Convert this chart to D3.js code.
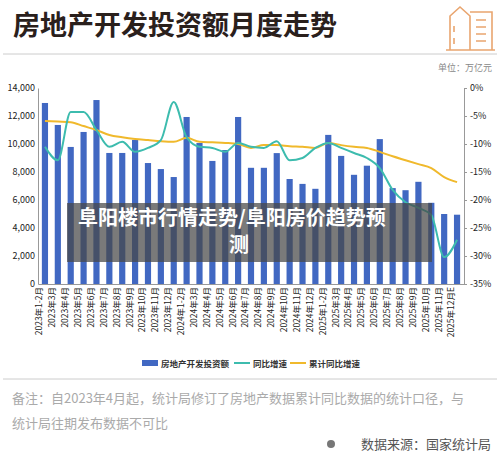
<!DOCTYPE html>
<html><head><meta charset="utf-8">
<script src="https://cdn.jsdelivr.net/npm/d3@7"></script>
<style>body{margin:0;background:#fff}text{font-family:"Noto Sans CJK SC","Noto Sans",sans-serif}</style>
</head><body><div id="chart"></div>
<script>
const months = ["2023年1-2月","2023年3月","2023年4月","2023年5月","2023年6月","2023年7月","2023年8月","2023年9月","2023年10月","2023年11月","2023年12月",
  "2024年1-2月","2024年3月","2024年4月","2024年5月","2024年6月","2024年7月","2024年8月","2024年9月","2024年10月","2024年11月","2024年12月",
  "2025年1-2月","2025年3月","2025年4月","2025年5月","2025年6月","2025年7月","2025年8月","2025年9月","2025年10月","2025年11月","2025年12月E"];
const investment = [12930,11360,9790,10860,13140,9360,9360,10290,8640,8210,7640,11930,10070,8790,9570,11930,
  8300,8300,9350,7500,7150,6800,10650,9150,7800,8450,10350,6850,6700,7300,5800,5000,4950];
const yoy = [-10.5,-12.9,-4.3,-4.3,-7.5,-10.5,-9.6,-11.4,-10.7,-9.3,-2.5,-8.8,-10.5,-10.7,-11.4,-9.8,-10.5,-10.7,-9.5,
  -12.9,-12.5,-10.7,-9.8,-10.7,-11.6,-12.5,-14.3,-18.2,-20.4,-21.4,-22.7,-30.2,-27.1];
const ytd = [-5.9,-6.0,-6.1,-6.8,-7.5,-8.4,-8.8,-9.1,-9.3,-9.5,-9.6,-8.9,-9.6,-9.7,-9.8,-10.0,-10.7,-10.2,-10.2,-10.4,
  -10.5,-10.7,-9.8,-10.2,-10.5,-10.7,-11.4,-12.2,-12.9,-13.6,-14.3,-15.9,-16.8];
const leftTicks = [0,2000,4000,6000,8000,10000,12000,14000];
const rightTicks = [0,-5,-10,-15,-20,-25,-30,-35];

const W = 500, H = 467;
const svg = d3.select("#chart").append("svg").attr("width", W).attr("height", H);

const x = d3.scaleBand().domain(months).range([38, 464]).paddingInner(0.52).paddingOuter(0.3);
const yL = d3.scaleLinear().domain([0, 14000]).range([284, 88]);
const yR = d3.scaleLinear().domain([-35, 0]).range([284, 88]);

// header
svg.append("text").attr("x", 13).attr("y", 35).attr("font-size", 27).attr("font-weight", 700)
  .attr("fill", "#2a201c").text("房地产开发投资额月度走势");
svg.append("line").attr("x1", 3).attr("x2", 497).attr("y1", 54).attr("y2", 54).attr("stroke", "#ccc");
const ic = svg.append("g").attr("fill", "none").attr("stroke", "#e9a56f").attr("stroke-width", 1.6);
ic.append("path").attr("d", "M450,50 V16 L460,7 L470,16 V50 M470,12 H492 V50 M446,50 H495");
ic.append("path").attr("d", "M454,26 V32 M454,38 V44 M476,20 H486 M476,27 H486 M476,34 H486 M476,41 H486");
svg.append("text").attr("x", 492).attr("y", 71).attr("text-anchor", "end").attr("font-size", 9)
  .attr("fill", "#888").text("单位：万亿元");

// axes
const gl = svg.append("g").attr("transform", "translate(38,0)")
  .call(d3.axisLeft(yL).tickValues(leftTicks).tickSize(0).tickPadding(3));
gl.select(".domain").attr("stroke", "#999");
gl.selectAll("text").attr("font-size", 9).attr("fill", "#222");
const gr = svg.append("g").attr("transform", "translate(464,0)")
  .call(d3.axisRight(yR).tickValues(rightTicks).tickSize(3).tickFormat(d => d + "%"));
gr.selectAll("path,line").attr("stroke", "#999");
gr.selectAll("text").attr("font-size", 9).attr("fill", "#222");
const gx = svg.append("g").attr("transform", "translate(0,284)")
  .call(d3.axisBottom(x).tickSize(0).tickPadding(3));
gx.select(".domain").attr("stroke", "#999");
gx.selectAll("text").attr("font-size", 8.5).attr("fill", "#222")
  .attr("transform", "rotate(-90)").attr("text-anchor", "end").attr("dx", "-3").attr("dy", "-0.3em").attr("y", 0).attr("x", 0);

// bars
svg.append("g").selectAll("rect").data(investment).join("rect")
  .attr("x", (d, i) => x(months[i])).attr("width", x.bandwidth())
  .attr("y", d => yL(d)).attr("height", d => yL(0) - yL(d)).attr("fill", "#4168c2");

const cx = i => x(months[i]) + x.bandwidth() / 2;
const line = d3.line().x((d, i) => cx(i)).y(d => yR(d)).curve(d3.curveMonotoneX);
svg.append("path").attr("d", line(ytd)).attr("fill", "none").attr("stroke", "#f0b92c").attr("stroke-width", 2);
svg.append("path").attr("d", line(yoy)).attr("fill", "none").attr("stroke", "#3dbcae").attr("stroke-width", 2);

// legend
const legend = [["房地产开发投资额", "#4168c2", "rect"], ["同比增速", "#3dbcae", "line"], ["累计同比增速", "#f0b92c", "line"]];
const lx = [142, 234, 290];
legend.forEach((l, i) => {
  const g = svg.append("g").attr("transform", `translate(${lx[i]},363)`);
  if (l[2] === "rect") g.append("rect").attr("x", 0).attr("y", -3).attr("width", 16).attr("height", 6).attr("fill", l[1]);
  else g.append("line").attr("x1", 0).attr("x2", 16).attr("y1", 0).attr("y2", 0).attr("stroke", l[1]).attr("stroke-width", 2);
  g.append("text").attr("x", 19).attr("y", 3.5).attr("font-size", 8.5).attr("font-weight", 700).attr("fill", "#333").text(l[0]);
});

// overlay
svg.append("rect").attr("x", 67).attr("y", 203).attr("width", 365).attr("height", 59).attr("fill", "rgba(70,70,70,0.72)");
svg.append("text").attr("x", 78).attr("y", 225).attr("font-size", 20).attr("font-weight", 700).attr("fill", "#fff").text("阜阳楼市行情走势/阜阳房价趋势预");
svg.append("text").attr("x", 229).attr("y", 252).attr("font-size", 20).attr("font-weight", 700).attr("fill", "#fff").text("测");

// footer
svg.append("line").attr("x1", 3).attr("x2", 497).attr("y1", 379).attr("y2", 379).attr("stroke", "#ccc");
svg.append("text").attr("x", 12).attr("y", 403).attr("font-size", 13).attr("fill", "#aaa").text("备注：自2023年4月起，统计局修订了房地产数据累计同比数据的统计口径，与");
svg.append("text").attr("x", 12).attr("y", 428).attr("font-size", 13).attr("fill", "#aaa").text("统计局往期发布数据不可比");
svg.append("circle").attr("cx", 331).attr("cy", 444).attr("r", 4).attr("fill", "#777");
svg.append("text").attr("x", 491).attr("y", 449).attr("text-anchor", "end").attr("font-size", 13).attr("fill", "#555").text("数据来源：国家统计局");
</script></body></html>
